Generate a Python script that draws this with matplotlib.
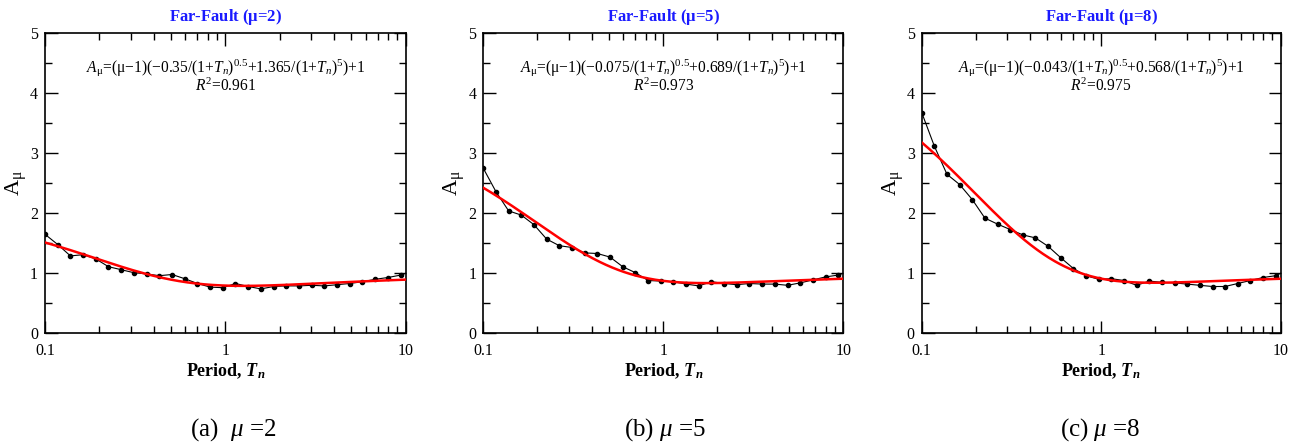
import numpy as np
import matplotlib
matplotlib.use('Agg')
import matplotlib.pyplot as plt
from matplotlib.ticker import LogLocator, FixedLocator, NullFormatter, FixedFormatter

plt.rcParams['font.family'] = ['Liberation Serif', 'DejaVu Serif']
plt.rcParams['mathtext.fontset'] = 'custom'
plt.rcParams['mathtext.rm'] = 'Liberation Serif'
plt.rcParams['mathtext.it'] = 'Liberation Serif:italic'
plt.rcParams['mathtext.bf'] = 'Liberation Serif:bold'
plt.rcParams['mathtext.bfit'] = 'Liberation Serif:bold:italic'

# periods where the markers sit
periods = [0.1, 0.1176, 0.1383, 0.1626, 0.1912, 0.2249, 0.2645, 0.311, 0.366, 0.430,
           0.506, 0.595, 0.700, 0.823, 0.968, 1.138, 1.339, 1.574, 1.852, 2.178,
           2.561, 3.01, 3.54, 4.17, 4.90, 5.76, 6.78, 7.97, 9.37, 10.0]

amp_mu2 = [1.65, 1.48, 1.29, 1.31, 1.24, 1.11, 1.06, 1.01, 0.99, 0.96,
           0.98, 0.91, 0.83, 0.77, 0.76, 0.83, 0.78, 0.74, 0.78, 0.79,
           0.79, 0.80, 0.79, 0.81, 0.83, 0.86, 0.90, 0.93, 0.97, 1.00]
amp_mu5 = [2.75, 2.36, 2.04, 1.97, 1.81, 1.57, 1.46, 1.43, 1.34, 1.33,
           1.27, 1.11, 1.01, 0.88, 0.87, 0.86, 0.82, 0.79, 0.86, 0.83,
           0.81, 0.83, 0.82, 0.82, 0.80, 0.84, 0.89, 0.94, 0.97, 1.00]
amp_mu8 = [3.68, 3.12, 2.65, 2.48, 2.23, 1.92, 1.82, 1.73, 1.64, 1.59,
           1.45, 1.26, 1.08, 0.96, 0.90, 0.91, 0.88, 0.80, 0.87, 0.85,
           0.84, 0.82, 0.80, 0.78, 0.78, 0.83, 0.88, 0.93, 0.96, 1.00]

mus = [2, 5, 8]
coef_a = [-0.35, -0.075, -0.043]
coef_b = [1.365, 0.689, 0.568]
coef_txt_a = ['0.35', '0.075', '0.043']
coef_txt_b = ['1.365', '0.689', '0.568']
r2 = ['0.961', '0.973', '0.975']
captions = ['(a)  $\\mu$ =2', '(b) $\\mu$ =5', '(c) $\\mu$ =8']
caption_x = [233, 665, 1100]

fig = plt.figure(figsize=(13.03, 4.48), dpi=100)
W, H = 1303.0, 448.0
lefts = [45, 483.3, 921.7]
widths = [360.7, 360, 359]

series = [amp_mu2, amp_mu5, amp_mu8]
t_fit = np.logspace(-1, 1, 300)

for i in range(3):
    ax = fig.add_axes([lefts[i] / W, (H - 333.3) / H, widths[i] / W, 300 / H])
    mu = mus[i]
    # fitted curve from the coefficients printed on the chart
    fit = (mu - 1) * (coef_a[i] / (1 + t_fit) ** 0.5 + coef_b[i] / (1 + t_fit) ** 5) + 1

    ax.plot(periods, series[i], color='black', lw=0.8, marker='o', ms=3,
            markevery=list(range(len(periods) - 1)), zorder=2)
    ax.plot(t_fit, fit, color='red', lw=1.8, zorder=3)

    ax.set_xscale('log')
    ax.set_xlim(0.1, 10)
    ax.set_ylim(0, 5)
    ax.xaxis.set_major_locator(FixedLocator([0.1, 1, 10]))
    ax.xaxis.set_major_formatter(FixedFormatter(['0.1', '1', '10']))
    ax.xaxis.set_minor_locator(LogLocator(base=10, subs=np.arange(2, 10)))
    ax.xaxis.set_minor_formatter(NullFormatter())
    ax.set_yticks([0, 1, 2, 3, 4, 5])
    ax.set_yticks([0.5, 1.5, 2.5, 3.5, 4.5], minor=True)
    ax.tick_params(which='both', direction='in', top=True, right=True,
                   labelsize=11.5, pad=4, width=1.0)
    ax.tick_params(axis='x', which='both', pad=7)
    ax.tick_params(axis='y', which='both', pad=5)
    ax.tick_params(which='major', length=9)
    ax.tick_params(which='minor', length=5)
    for s in ax.spines.values():
        s.set_linewidth(1.2)

    ax.set_title('Far-Fault ($\\mathbf{\\mu}$=%d)' % mu, color='#1a1aff',
                 fontweight='bold', fontsize=12, pad=9)
    ax.set_xlabel('Period, $\\mathbfit{T_n}$', fontsize=13, fontweight='bold')
    ax.xaxis.set_label_coords(0.5, -0.095)
    ax.set_ylabel('A$_{\\mathrm{\\mu}}$', fontsize=16)
    ax.yaxis.set_label_coords(-0.045, 0.5)

    formula = ('$A_\\mathrm{\\mu}$=(\u03bc\u22121)(\u2212' + coef_txt_a[i]
               + '/(1+$T_n$)$^{0.5}$+' + coef_txt_b[i] + '/(1+$T_n$)$^5$)+1')
    ax.text(0.5, 0.885, formula, transform=ax.transAxes, ha='center',
            va='center', fontsize=11.2)
    ax.text(0.5, 0.822, '$R^2$=' + r2[i], transform=ax.transAxes,
            ha='center', va='center', fontsize=11.2)

for i in range(3):
    fig.text(caption_x[i] / W, 18 / H, captions[i], ha='center', va='center',
             fontsize=18)

fig.savefig('out.png', dpi=100)
